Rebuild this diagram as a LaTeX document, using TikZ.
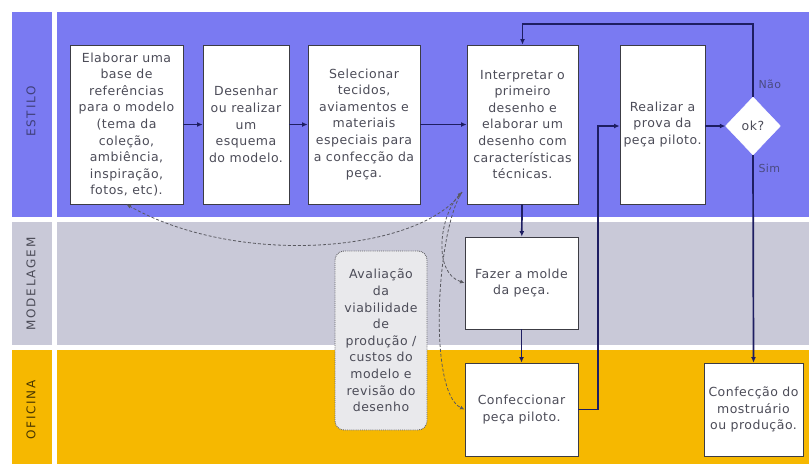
\documentclass[tikz,border=0pt]{standalone}
\usepackage{fontspec}
\setmainfont{DejaVu Sans}[LetterSpace=4]
\newfontfamily\lanefont{DejaVu Sans}[LetterSpace=15]
\usetikzlibrary{shapes.geometric,arrows.meta}
\definecolor{estilo}{HTML}{7A7AF2}
\definecolor{modelagem}{HTML}{C9C9D8}
\definecolor{oficina}{HTML}{F6B800}
\definecolor{flow}{HTML}{1E1E62}
\definecolor{boxline}{HTML}{3C3C44}
\definecolor{txt}{HTML}{4C4C58}
\definecolor{notefill}{HTML}{E9E9EC}
\begin{document}
\begin{tikzpicture}[x=1pt,y=-1pt,
  every node/.style={font=\fontsize{12.5}{16.6}\selectfont, text=txt},
  stepbox/.style={draw=boxline, line width=0.9pt, fill=white, align=center, inner sep=0pt},
  lanelabel/.style={rotate=90, font=\lanefont\fontsize{12}{14}\selectfont},
  flowline/.style={draw=flow, line width=1.7pt, -{Latex[length=5.5pt,width=5pt]}},
  noteline/.style={draw=boxline!85, line width=0.8pt, densely dashed, -{Latex[length=4.5pt,width=4pt]}},
  decision/.style={diamond, fill=white, draw=white, inner sep=0pt, minimum width=55pt, minimum height=58pt, aspect=1}]
\useasboundingbox (0,0) rectangle (809,464);
\fill[white] (0,0) rectangle (809,464);

% swim lanes
\fill[estilo]    (12,12)  rectangle (52,217);
\fill[estilo]    (57,12)  rectangle (809,217);
\fill[modelagem] (12,222) rectangle (52,345);
\fill[modelagem] (57,222) rectangle (809,345);
\fill[oficina]   (12,350) rectangle (52,464);
\fill[oficina]   (57,350) rectangle (809,464);
\node[lanelabel, text=flow!85]     (lEst) at (31,111.5) {ESTILO};
\node[lanelabel, text=txt]         (lMod) at (31,284)   {MODELAGEM};
\node[lanelabel, text=black!70!oficina] (lOfi) at (31,410) {OFICINA};

% steps
\node[stepbox, minimum width=113pt, minimum height=159pt] (b1) at (126.5,124.5)
  {Elaborar uma\\base de\\referências\\para o modelo\\(tema da\\coleção,\\ambiência,\\inspiração,\\fotos, etc).};
\node[stepbox, minimum width=86pt, minimum height=159pt] (b2) at (246,124.5)
  {Desenhar\\ou realizar\\um\\esquema\\do modelo.};
\node[stepbox, minimum width=112pt, minimum height=159pt] (b3) at (364,124.5)
  {Selecionar\\tecidos,\\aviamentos e\\materiais\\especiais para\\a confecção da\\peça.};
\node[stepbox, minimum width=111pt, minimum height=159pt] (b4) at (522.5,124.5)
  {Interpretar o\\primeiro\\desenho e\\elaborar um\\desenho com\\características\\técnicas.};
\node[stepbox, minimum width=85pt, minimum height=159pt] (b5) at (662.5,124.5)
  {Realizar a\\prova da\\peça piloto.};
\node[decision] (ok) at (753,126) {ok?};
\node[stepbox, minimum width=113pt, minimum height=92pt] (molde) at (521.5,283)
  {Fazer a molde\\da peça.};
\node[stepbox, minimum width=113pt, minimum height=93pt] (conf) at (521.5,409.5)
  {Confeccionar\\peça piloto.};
\node[stepbox, minimum width=99pt, minimum height=93pt] (most) at (753.5,409.5)
  {Confecção do\\mostruário\\ou produção.};
\node[draw=boxline!80, densely dotted, line width=0.9pt, fill=notefill, rounded corners=9pt,
      align=center, inner sep=0pt, minimum width=92pt, minimum height=179pt] (aval) at (381,340.5)
  {Avaliação\\da\\viabilidade\\de\\produção /\\custos do\\modelo e\\revisão do\\desenho};

% main flow
\draw[flowline] (b1) -- (b2);
\draw[flowline] (b2) -- (b3);
\draw[flowline] (b3) -- (b4);
\draw[flowline] (b4) -- (molde);
\draw[flowline] (molde) -- (conf);
\draw[flowline] (conf.east) -| (598,126) -- (b5.west |- 598,126);
\draw[flowline] (b5.east |- ok) -- (ok.west);
\draw[flowline] (ok.north) -- (753,24) -| (b4.north);
\draw[flowline] (ok.south) -- (most.north);
\node[anchor=west, text=flow!80, font=\fontsize{11}{13}\selectfont] (nao) at (755,84) {Não};
\node[anchor=west, text=flow!80, font=\fontsize{11}{13}\selectfont] (sim) at (755,168) {Sim};

% review loops
\coordinate (hub) at (462,192);
\draw[noteline] (hub) .. controls (420,252) and (240,268) .. (b1.south);
\draw[noteline, {Latex[length=4.5pt,width=4pt]}-{Latex[length=4.5pt,width=4pt]}] (hub) .. controls (440,215) and (432,272) .. (molde.west);
\draw[noteline] (hub) .. controls (436,232) and (428,392) .. (conf.west);
\end{tikzpicture}
\end{document}
